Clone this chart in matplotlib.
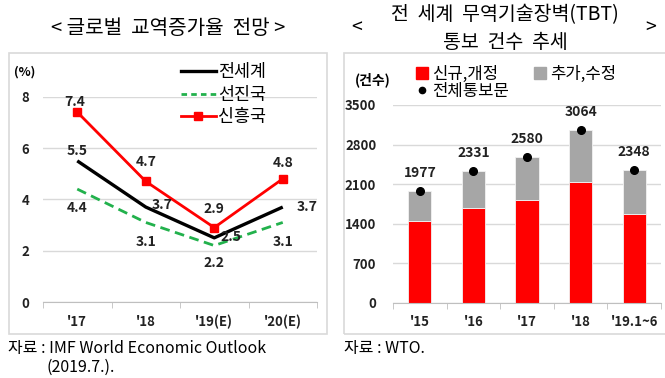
import matplotlib
matplotlib.use("Agg")
import matplotlib.pyplot as plt
from matplotlib.lines import Line2D
from matplotlib.patches import Rectangle
import numpy as np

plt.rcParams["font.family"] = ["Noto Sans CJK KR", "DejaVu Sans"]

# left chart: global trade growth outlook (%)
years_left = ["'17", "'18", "'19(E)", "'20(E)"]
world = [5.5, 3.7, 2.5, 3.7]
advanced = [4.4, 3.1, 2.2, 3.1]
emerging = [7.4, 4.7, 2.9, 4.8]

# right chart: TBT notifications
years_right = ["'15", "'16", "'17", "'18", "'19.1~6"]
new_revised = [1453, 1688, 1824, 2135, 1576]
totals = [1977, 2331, 2580, 3064, 2348]
added = [t - n for t, n in zip(totals, new_revised)]

W, H = 665, 378
fig = plt.figure(figsize=(W / 100, H / 100), dpi=100)


def fig_rect(x0, y0, x1, y1):
    return [x0 / W, 1 - y1 / H, (x1 - x0) / W, (y1 - y0) / H]


def px(x, y):
    return x / W, 1 - y / H


# panel frames
for x0, x1 in [(9, 327), (344, 668)]:
    l, b, w, h = fig_rect(x0, 53, x1, 334)
    fig.patches.append(Rectangle((l, b), w, h, transform=fig.transFigure,
                                 fill=False, edgecolor="#d9d9d9", linewidth=1.2))

grid_color = "#d9d9d9"
label_color = "#222222"


def style_axis(ax, n):
    for side in ["top", "right", "left"]:
        ax.spines[side].set_visible(False)
    ax.spines["bottom"].set_color("#bfbfbf")
    ax.grid(axis="y", color=grid_color, linewidth=1)
    ax.set_axisbelow(True)
    ax.set_xlim(-0.5, n - 0.5)
    ax.set_xticks(np.arange(n))
    ax.set_xticks(np.arange(n + 1) - 0.5, minor=True)
    ax.tick_params(axis="x", which="major", length=0, pad=9)
    ax.tick_params(axis="x", which="minor", length=4, color="#bfbfbf")
    ax.tick_params(axis="y", length=0)
    for lab in ax.get_xticklabels() + ax.get_yticklabels():
        lab.set_fontsize(9.5)
        lab.set_fontweight("bold")
        lab.set_color(label_color)


# ---- left chart ----
ax1 = fig.add_axes(fig_rect(43, 96.7, 317, 302))
x = np.arange(len(years_left))
ax1.plot(x, world, color="black", linewidth=2.4, solid_capstyle="butt")
ax1.plot(x, advanced, color="#22b14c", linewidth=2.0, linestyle=(0, (3.5, 2)))
ax1.plot(x, emerging, color="#ff0000", linewidth=2.0, marker="s", markersize=5.5)
ax1.set_ylim(0, 8)
ax1.set_yticks([0, 2, 4, 6, 8])
ax1.set_xticklabels(years_left)
ax1.tick_params(axis="y", pad=10)
style_axis(ax1, len(years_left))

# label offsets in pixels (dx, dy upward)
emerging_off = [(-3, 10), (0, 19), (0, 19), (0, 16)]
world_off = [(0, 10), (16, 2), (17, 1), (24, 0)]
advanced_off = [(0, -19), (0, -20), (0, -17), (0, -20)]
for series, offs in [(emerging, emerging_off), (world, world_off), (advanced, advanced_off)]:
    for i, (v, (dx, dy)) in enumerate(zip(series, offs)):
        ax1.annotate(f"{v:.1f}", (i, v), xytext=(dx * 0.72, dy * 0.72),
                     textcoords="offset points", ha="center", va="center",
                     fontsize=10, fontweight="bold", color=label_color)

fig.text(*px(25, 72), "(%)", fontsize=9, fontweight="bold", ha="center", va="center")
handles = [
    Line2D([], [], color="black", linewidth=2.4),
    Line2D([], [], color="#22b14c", linewidth=2.0, linestyle=(0, (2, 1.5))),
    Line2D([], [], color="#ff0000", linewidth=2.0, marker="s", markersize=5.5),
]
fig.legend(handles, ["전세계", "선진국", "신흥국"], loc="upper left",
           bbox_to_anchor=px(174, 56), frameon=False, fontsize=12.5,
           handlelength=2.0, handletextpad=0.15, labelspacing=0.27,
           borderaxespad=0)

fig.text(*px(168, 29), "< 글로벌  교역증가율  전망 >", fontsize=14.5,
         ha="center", va="center")

# ---- right chart ----
ax2 = fig.add_axes(fig_rect(393, 105, 661, 303))
xr = np.arange(len(years_right))
ax2.bar(xr, new_revised, width=0.43, color="#ff0000", edgecolor="#f2f2f2", linewidth=0.6)
ax2.bar(xr, added, width=0.43, bottom=new_revised, color="#a6a6a6",
        edgecolor="#f2f2f2", linewidth=0.6)
ax2.plot(xr, totals, linestyle="none", marker="o", markersize=5.5, color="black")
for i, t in enumerate(totals):
    ax2.annotate(f"{t}", (i, t), xytext=(0, 13), textcoords="offset points",
                 ha="center", va="center", fontsize=10, fontweight="bold",
                 color=label_color)
ax2.set_ylim(0, 3500)
ax2.set_yticks([0, 700, 1400, 2100, 2800, 3500])
ax2.set_xticklabels(years_right)
ax2.tick_params(axis="y", pad=12)
style_axis(ax2, len(years_right))

fig.text(*px(373, 80), "(건수)", fontsize=10, fontweight="bold", ha="center", va="center")
r_handles = [
    Line2D([], [], linestyle="none", marker="s", markersize=8.5, color="#ff0000"),
    Line2D([], [], linestyle="none", marker="o", markersize=4.5, color="black"),
    Line2D([], [], linestyle="none", marker="s", markersize=8.5, color="#a6a6a6"),
]
fig.legend(r_handles, ["신규,개정", "전체통보문", "추가,수정"], loc="upper left",
           bbox_to_anchor=px(409, 59), frameon=False, fontsize=12, ncol=2,
           handlelength=0.8, handletextpad=0.2, labelspacing=0.0,
           columnspacing=1.45, borderaxespad=0)

title_size = 14
fig.text(*px(505, 15), "전  세계  무역기술장벽(TBT)", fontsize=title_size, ha="center", va="center")
fig.text(*px(505, 42), "통보  건수  추세", fontsize=title_size, ha="center", va="center")
fig.text(*px(357, 27), "<", fontsize=title_size, ha="center", va="center")
fig.text(*px(651, 27), ">", fontsize=title_size, ha="center", va="center")

# sources
fig.text(*px(8, 348), "자료 : IMF World Economic Outlook", fontsize=11.5,
         ha="left", va="center")
fig.text(*px(47, 367), "(2019.7.).", fontsize=11.5, ha="left", va="center")
fig.text(*px(344, 348), "자료 : WTO.", fontsize=11.5, ha="left", va="center")

fig.savefig("out.png", dpi=100)
